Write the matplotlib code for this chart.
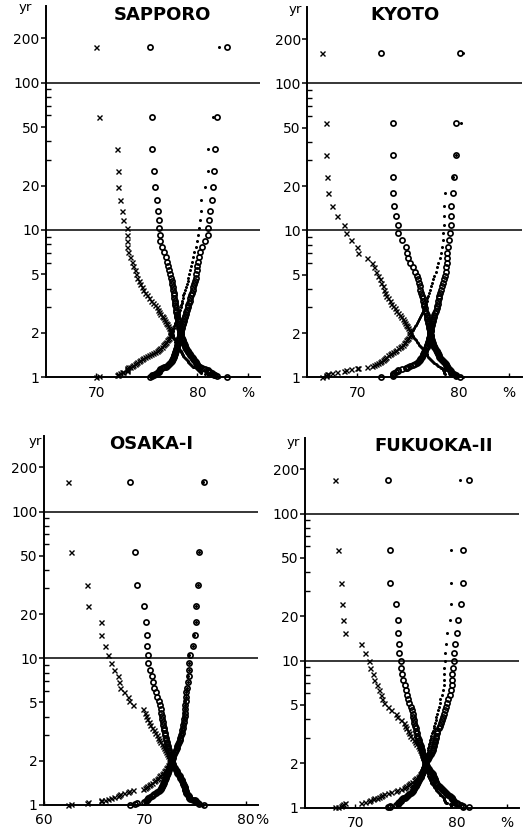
import numpy as np
import matplotlib.pyplot as plt
from matplotlib.ticker import NullFormatter

# sorted annual values (%) for each station, series A (x / dots) and series B (circles)
sapporo_a = [70.0, 70.3, 72.0, 72.1, 72.1, 72.3, 72.5, 72.6, 73.0, 73.0, 73.0, 73.0, 73.1,
             73.3, 73.5, 73.6, 73.8, 73.9, 74.0, 74.2, 74.3, 74.5,
             74.6, 74.8, 75.0, 75.2, 75.4, 75.6, 75.8, 76.0, 76.1, 76.2, 76.3, 76.5, 76.6, 76.7,
             76.8, 76.9, 77.0, 77.1, 77.2, 77.3, 77.3, 77.4,
             77.5, 77.55, 77.6, 77.65, 77.7, 77.75, 77.8, 77.85, 77.9, 78.0, 78.05, 78.1, 78.2, 78.3, 78.35,
             78.4, 78.45, 78.5, 78.55, 78.6, 78.7, 78.8, 78.9, 79.0, 79.05, 79.1, 79.15,
             79.3, 79.4, 79.5, 79.6, 79.7, 79.9, 80.0, 80.1,
             80.15, 80.3, 80.4, 80.4, 80.75, 81.0, 81.0, 81.5, 82.1]
sapporo_b = [75.3, 75.55, 75.55, 75.65, 75.8, 75.95, 76.1, 76.15, 76.15, 76.25, 76.3, 76.5, 76.7,
             76.85, 77.0, 77.1, 77.2, 77.3, 77.4, 77.45, 77.5, 77.55, 77.6, 77.65,
             77.7, 77.72, 77.75, 77.8, 77.82, 77.85,
             77.9, 77.92, 77.95, 78.0, 78.02, 78.05, 78.08, 78.1, 78.13, 78.16, 78.2, 78.23, 78.26, 78.3,
             78.33, 78.37, 78.4, 78.45, 78.5, 78.55, 78.6, 78.65, 78.7, 78.75, 78.8, 78.85, 78.9, 79.0,
             79.05, 79.1, 79.2, 79.25, 79.3, 79.4, 79.5, 79.55, 79.6, 79.7, 79.75, 79.85, 79.9, 79.95,
             80.0, 80.05, 80.15, 80.3, 80.5, 80.8, 81.0,
             81.05, 81.15, 81.2, 81.4, 81.55, 81.6, 81.7, 81.9, 82.9]

kyoto_a = [66.5, 66.9, 66.9, 66.95, 67.1, 67.5, 68.0, 68.7, 68.9, 69.4, 70.0, 70.05, 70.9, 71.4, 71.6,
           71.8, 72.0, 72.2, 72.3, 72.5, 72.6, 72.7, 72.85, 73.0, 73.2, 73.35, 73.5,
           73.7, 73.85, 74.0, 74.2, 74.35, 74.5, 74.6, 74.7, 74.8, 74.9, 75.0, 75.1, 75.2,
           75.3, 75.4, 75.5, 75.6, 75.7, 75.8, 75.9, 76.0, 76.1, 76.15, 76.25, 76.35,
           76.45, 76.55, 76.65, 76.75, 76.85, 76.9, 77.0, 77.1, 77.2, 77.3, 77.4, 77.5,
           77.6, 77.75, 77.85, 78.0, 78.2, 78.3,
           78.4, 78.45, 78.5, 78.55, 78.55, 78.55, 78.65, 79.5, 79.8, 80.3, 80.5]
kyoto_b = [72.3, 73.5, 73.5, 73.5, 73.55, 73.65, 73.8, 74.0, 74.0, 74.4, 74.8, 74.95, 75.05, 75.2,
           75.5, 75.7, 75.9, 76.0, 76.1, 76.15, 76.2, 76.3, 76.4, 76.45, 76.5,
           76.55, 76.6, 76.65, 76.7, 76.8, 76.85, 76.9, 76.92, 76.95, 77.0, 77.05, 77.08, 77.1, 77.15, 77.2,
           77.2, 77.25, 77.28, 77.3, 77.33, 77.35, 77.4, 77.45, 77.5, 77.55, 77.6, 77.7, 77.75, 77.85,
           77.9, 77.95, 78.0, 78.05, 78.1, 78.2, 78.3, 78.4, 78.5, 78.6, 78.7,
           78.75, 78.8, 78.85, 78.9, 78.9,
           78.95, 79.05, 79.15, 79.3, 79.3, 79.3, 79.5, 79.55, 79.8, 79.8, 80.15]

osaka_a = [62.4, 62.7, 64.3, 64.4, 65.6, 65.6, 66.0, 66.3, 66.6, 66.9, 67.3, 67.4, 67.5, 67.9, 68.3,
           68.45, 68.8, 69.8, 70.0, 70.1, 70.2, 70.4, 70.55, 70.7, 70.85, 71.0, 71.15,
           71.25, 71.35, 71.5, 71.65, 71.8, 71.9, 72.0, 72.1, 72.2, 72.3, 72.4, 72.5, 72.55,
           72.65, 72.7, 72.75, 72.85, 72.9, 73.0, 73.1, 73.15, 73.25, 73.3, 73.4, 73.45, 73.55,
           73.6, 73.65, 73.7, 73.75, 73.8, 73.85, 73.9, 73.9, 73.95, 74.0, 74.0, 74.05, 74.1,
           74.15, 74.25, 74.3, 74.35, 74.4, 74.4, 74.75, 74.9, 75.05, 75.1, 75.25, 75.35, 75.8]
osaka_b = [68.5, 69.0, 69.2, 69.9, 70.1, 70.2, 70.25, 70.3, 70.3, 70.55, 70.65, 70.75, 70.9, 71.05,
           71.2, 71.35, 71.5, 71.55, 71.6, 71.65, 71.7, 71.75, 71.8, 71.85, 71.9, 71.95, 72.0,
           72.05, 72.1, 72.15, 72.2, 72.25, 72.3, 72.35, 72.4, 72.45, 72.5, 72.55, 72.6, 72.65,
           72.7, 72.75, 72.8, 72.9, 72.95, 73.05, 73.15, 73.2, 73.3, 73.35, 73.45, 73.5, 73.6,
           73.65, 73.7, 73.75, 73.8, 73.85, 73.9, 73.95, 73.95, 74.0, 74.0, 74.05, 74.1, 74.1,
           74.2, 74.3, 74.35, 74.4, 74.4, 74.45, 74.8, 74.95, 75.1, 75.1, 75.3, 75.35, 75.85]

fukuoka_a = [68.0, 68.3, 68.6, 68.65, 68.8, 69.0, 70.5, 70.9, 71.35, 71.45, 71.7, 71.85, 72.1, 72.3,
             72.5, 72.65, 72.85, 73.2, 73.5, 74.0, 74.15, 74.5,
             74.8, 74.95, 75.05, 75.2, 75.3, 75.45, 75.6, 75.75, 75.9, 76.0, 76.15, 76.25, 76.35,
             76.45, 76.55, 76.6, 76.7, 76.75, 76.8, 76.9,
             76.95, 77.0, 77.02, 77.05, 77.08, 77.1, 77.13, 77.16, 77.2, 77.22,
             77.25, 77.3, 77.35, 77.4, 77.45, 77.5, 77.6, 77.7, 77.75, 77.8, 77.9, 77.95, 78.0, 78.1,
             78.2, 78.3, 78.35, 78.4, 78.55, 78.7, 78.75, 78.75, 78.75, 78.8,
             78.9, 78.9, 78.95, 79.05, 79.4, 79.45, 79.5, 79.5, 80.4]
fukuoka_b = [73.2, 73.4, 73.4, 74.05, 74.2, 74.25, 74.3, 74.35, 74.5, 74.55, 74.65, 74.75, 74.9,
             75.0, 75.1, 75.2, 75.35, 75.5, 75.6, 75.65, 75.7, 75.75, 75.8, 75.85, 75.95,
             76.0, 76.05, 76.1, 76.2, 76.25, 76.3, 76.4, 76.45,
             76.5, 76.55, 76.6, 76.65, 76.7, 76.75, 76.8, 76.85, 76.9,
             76.95, 77.0, 77.1, 77.2, 77.3, 77.4, 77.5, 77.6,
             77.65, 77.7, 77.75, 77.8, 77.85, 77.9, 77.95, 78.0, 78.05,
             78.1, 78.25, 78.35, 78.5, 78.6, 78.7, 78.8, 78.9, 79.0, 79.1, 79.2, 79.35, 79.5,
             79.55, 79.55, 79.6, 79.7, 79.75, 79.8, 79.85, 80.1, 80.2, 80.5, 80.7, 80.7, 81.25]

stations = ['SAPPORO', 'KYOTO', 'OSAKA-I', 'FUKUOKA-II']
series_a = [sapporo_a, kyoto_a, osaka_a, fukuoka_a]
series_b = [sapporo_b, kyoto_b, osaka_b, fukuoka_b]
x_ticks = [[70, 80, 85], [70, 80, 85], [60, 70, 80], [70, 80, 85]]
x_ticklabels = [['70', '80', '%'], ['70', '80', '%'], ['60', '70', '80'], ['70', '80', '%']]
y_ticks = [1, 2, 5, 10, 20, 50, 100, 200]
y_minor = [3, 4, 6, 7, 8, 9, 30, 40, 60, 70, 80, 90]

W, H = 527, 831
xlims = [(65, 86.2), (65, 86.3), (60, 81.2), (65, 86.2)]
# panel boxes in pixels: left, right, top, bottom
boxes = [(46, 260, 6.3, 377.3), (307, 522, 7.1, 377.3),
         (44, 258, 435.5, 805), (305, 519, 437.5, 807.7)]
title_xy = [(162, 15), (405, 15), (151, 444), (434, 446)]
yr_xy = [(25, 8), (295, 9), (35, 441), (293, 443)]

fig = plt.figure(figsize=(W / 100, H / 100), dpi=100)


def periods(n):
    # Hazen plotting position: (2m-1)/2n
    m = np.arange(1, n + 1)
    low = 2 * n / (2 * m - 1)
    high = 2 * n / (2 * n - 2 * m + 1)
    return m, low, high


for i in range(4):
    l, r, t, b = boxes[i]
    ax = fig.add_axes([l / W, 1 - b / H, (r - l) / W, (b - t) / H])
    a = np.array(series_a[i])
    c = np.array(series_b[i])

    m, lo, hi = periods(len(a))
    half = m <= len(a) / 2
    for tt in (lo, hi):
        ax.plot(a[half], tt[half], 'x', color='k', ms=3.6, mew=1.0, clip_on=False)
        ax.plot(a[~half], tt[~half], 'o', color='k', ms=2.2, mew=0, clip_on=False)
    m, lo, hi = periods(len(c))
    for tt in (lo, hi):
        ax.plot(c, tt, 'o', mfc='none', mec='k', ms=3.7, mew=1.25, clip_on=False)

    ax.axhline(10, color='k', lw=1.1)
    ax.axhline(100, color='k', lw=1.1)

    ax.set_yscale('log')
    ax.set_ylim(1, 330)
    ax.set_xlim(*xlims[i])
    ax.set_yticks(y_ticks)
    ax.set_yticklabels([str(v) for v in y_ticks])
    ax.set_yticks(y_minor, minor=True)
    ax.yaxis.set_minor_formatter(NullFormatter())
    ax.set_xticks(x_ticks[i])
    ax.set_xticklabels(x_ticklabels[i])
    ax.tick_params(axis='y', which='major', direction='out', length=3.5, width=1.1,
                   pad=1, labelsize=10)
    ax.tick_params(axis='y', which='minor', direction='in', length=3.5, width=1.0)
    ax.tick_params(axis='x', which='major', direction='in', length=3, width=1.0,
                   pad=6, labelsize=10)
    ax.tick_params(axis='x', which='minor', length=0)
    for s in ['top', 'right']:
        ax.spines[s].set_visible(False)
    for s in ['left', 'bottom']:
        ax.spines[s].set_linewidth(1.4)

    if i == 2:
        ax.annotate('%', xy=(80, 0), xycoords=ax.get_xaxis_transform(),
                    xytext=(6.5, -6), textcoords='offset points',
                    ha='left', va='top', fontsize=10)

    fig.text(title_xy[i][0] / W, 1 - title_xy[i][1] / H, stations[i],
             ha='center', va='center', fontsize=13, fontweight='bold')
    fig.text(yr_xy[i][0] / W, 1 - yr_xy[i][1] / H, 'yr',
             ha='center', va='center', fontsize=9.5)

fig.savefig('out.png', dpi=100)
